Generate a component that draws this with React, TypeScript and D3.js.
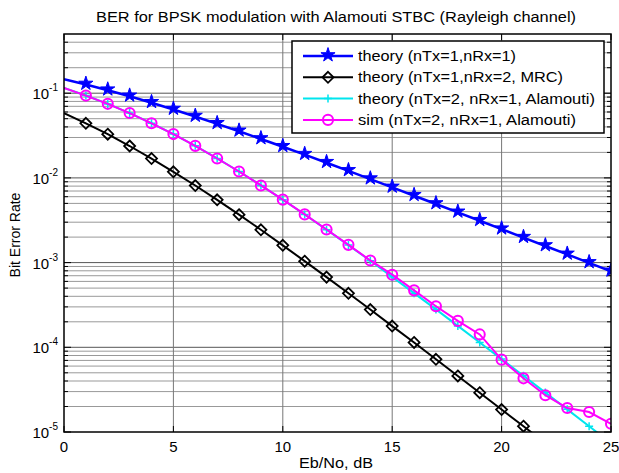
import React from 'react';
import * as d3 from 'd3';

const ebNo = [0, 1, 2, 3, 4, 5, 6, 7, 8, 9, 10, 11, 12, 13, 14, 15, 16, 17, 18, 19, 20, 21, 22, 23, 24, 25];

const theory11 = [0.1465, 0.1267, 0.1085, 0.0919, 0.0771, 0.0642, 0.053, 0.0435, 0.0355, 0.0288, 0.0233, 0.0188,
  0.0151, 0.0121, 0.00967, 0.00772, 0.00616, 0.00492, 0.00392, 0.00312, 0.00248, 0.00197, 0.00157, 0.00125,
  0.000992, 0.000789];

const theoryMrc = [0.0581, 0.0441, 0.0328, 0.0238, 0.0169, 0.0118, 0.00813, 0.00551, 0.00368, 0.00244, 0.0016,
  0.00104, 0.000674, 0.000434, 0.000279, 0.000178, 0.000114, 0.0000722, 0.0000459, 0.0000291, 0.0000184,
  0.0000117, 0.0000074, 0.0000047, 0.000003, 0.0000019];

const theoryAlamouti = [0.1151, 0.0939, 0.0748, 0.0582, 0.0442, 0.0329, 0.0239, 0.017, 0.0119, 0.00816, 0.00553,
  0.0037, 0.00245, 0.00161, 0.00105, 0.000677, 0.000436, 0.00028, 0.000179, 0.000114, 0.0000726, 0.0000461,
  0.0000292, 0.0000185, 0.0000117, 0.0000074];

const simAlamouti = [0.115, 0.0937, 0.0749, 0.0583, 0.0441, 0.0329, 0.0239, 0.01695, 0.0119, 0.00815, 0.00554,
  0.00371, 0.00246, 0.00162, 0.00106, 0.00072, 0.00047, 0.000305, 0.000205, 0.000142, 0.0000715, 0.000043,
  0.0000272, 0.0000192, 0.0000172, 0.0000125];

const legendLabels = [
  'theory (nTx=1,nRx=1)',
  'theory (nTx=1,nRx=2, MRC)',
  'theory (nTx=2, nRx=1, Alamouti)',
  'sim (nTx=2, nRx=1, Alamouti)',
];
// widths of the legend strings as they appear in the picture
const legendWidths = [158, 205, 237, 218];

const xTicks = [0, 5, 10, 15, 20, 25];
const yDecades = [-5, -4, -3, -2, -1];

const W = 619;
const H = 473;
const L = 64, R = 611, T = 34, B = 432;
const FONT = 'Liberation Sans, Arial, sans-serif';

const x = d3.scaleLinear().domain([0, 25]).range([L, R]);
const y = d3.scaleLog().domain([1e-5, 0.5]).range([B, T]);

const starPath = d3.symbol().type(d3.symbolStar).size(62)();
const circlePath = d3.symbol().type(d3.symbolCircle).size(80)();

const Marker = ({ kind, cx, cy }: { kind: string; cx: number; cy: number }) => {
  if (kind === 'star') {
    return <path d={starPath as string} transform={`translate(${cx},${cy - 1})`} fill="#0000ff" stroke="#0000ff" strokeWidth={1} />;
  }
  if (kind === 'diamond') {
    const r = 5.5;
    return (
      <path d={`M${cx},${cy - r}L${cx + r},${cy}L${cx},${cy + r}L${cx - r},${cy}Z`} fill="none" stroke="#000" strokeWidth={1.8} />
    );
  }
  if (kind === 'plus') {
    const r = 4;
    return (
      <path d={`M${cx - r},${cy}H${cx + r}M${cx},${cy - r}V${cy + r}`} stroke="#00e5ee" strokeWidth={1.5} fill="none" />
    );
  }
  return <path d={circlePath as string} transform={`translate(${cx},${cy})`} fill="none" stroke="#ff00ff" strokeWidth={2} />;
};

const series = [
  { values: theory11, color: '#0000ff', kind: 'star', width: 2.5 },
  { values: theoryMrc, color: '#000000', kind: 'diamond', width: 2 },
  { values: theoryAlamouti, color: '#00e5ee', kind: 'plus', width: 2 },
  { values: simAlamouti, color: '#ff00ff', kind: 'circle', width: 2 },
];

export default function App() {
  const line = d3
    .line<number>()
    .x((_, i) => x(ebNo[i]))
    .y((d) => y(d));

  const minor: number[] = [];
  yDecades.concat([0]).forEach((d) => {
    for (let k = 2; k <= 9; k++) {
      const v = k * 10 ** d;
      if (v < 0.5) minor.push(v);
    }
  });
  const majorY = yDecades.map((d) => 10 ** d);

  return (
    <svg width={W} height={H} style={{ position: 'absolute', left: 0, top: 0, background: '#fff' }} fontFamily={FONT}>
      <defs>
        <clipPath id="plot">
          <rect x={L} y={T} width={R - L} height={B - T} />
        </clipPath>
      </defs>
      <rect x={0} y={0} width={W} height={H} fill="#fff" />

      {/* grid */}
      {minor.map((v) => (
        <line key={'mg' + v} x1={L} x2={R} y1={y(v)} y2={y(v)} stroke="#999" strokeWidth={1} />
      ))}
      {majorY.slice(1).map((v) => (
        <line key={'Mg' + v} x1={L} x2={R} y1={y(v)} y2={y(v)} stroke="#555" strokeWidth={1} />
      ))}
      {xTicks.slice(1, -1).map((t) => (
        <line key={'xg' + t} x1={x(t)} x2={x(t)} y1={T} y2={B} stroke="#777" strokeWidth={1} />
      ))}

      {/* ticks */}
      {minor.map((v) => (
        <g key={'mt' + v}>
          <line x1={L} x2={L + 4} y1={y(v)} y2={y(v)} stroke="#000" />
          <line x1={R} x2={R - 4} y1={y(v)} y2={y(v)} stroke="#000" />
        </g>
      ))}
      {majorY.map((v) => (
        <g key={'Mt' + v}>
          <line x1={L} x2={L + 7} y1={y(v)} y2={y(v)} stroke="#000" />
          <line x1={R} x2={R - 7} y1={y(v)} y2={y(v)} stroke="#000" />
        </g>
      ))}
      {xTicks.map((t) => (
        <g key={'xt' + t}>
          <line x1={x(t)} x2={x(t)} y1={B} y2={B - 6} stroke="#000" />
          <line x1={x(t)} x2={x(t)} y1={T} y2={T + 6} stroke="#000" />
        </g>
      ))}

      {/* series */}
      <g clipPath="url(#plot)">
        {series.map((s, si) => (
          <g key={'s' + si}>
            <path d={line(s.values) as string} fill="none" stroke={s.color} strokeWidth={s.width} />
            {s.values.map((v, i) =>
              i > 0 ? <Marker key={i} kind={s.kind} cx={x(ebNo[i])} cy={y(v)} /> : null
            )}
          </g>
        ))}
      </g>

      {/* frame */}
      <rect x={L} y={T} width={R - L} height={B - T} fill="none" stroke="#000" strokeWidth={1.5} />

      {/* tick labels */}
      {xTicks.map((t) => (
        <text key={'xl' + t} x={x(t)} y={452} fontSize={15} textAnchor="middle" fill="#000">
          {t}
        </text>
      ))}
      {yDecades.map((d) => (
        <text key={'yl' + d} x={58} y={y(10 ** d) + 6} fontSize={15} textAnchor="end" fill="#000">
          10
          <tspan fontSize={10} dy={-8}>
            {d}
          </tspan>
        </text>
      ))}

      {/* titles */}
      <text x={96} y={22} fontSize={14} textLength={480} lengthAdjust="spacingAndGlyphs" fill="#000">
        BER for BPSK modulation with Alamouti STBC (Rayleigh channel)
      </text>
      <text x={299} y={468} fontSize={14} textLength={74} lengthAdjust="spacingAndGlyphs" fill="#000">
        Eb/No, dB
      </text>
      <text transform="translate(20,235) rotate(-90)" fontSize={14} textAnchor="middle" fill="#000">
        Bit Error Rate
      </text>

      {/* legend */}
      <rect x={292} y={41} width={312} height={92} fill="#fff" stroke="#000" strokeWidth={1.5} />
      {series.map((s, i) => {
        const ly = 56 + i * 21.3;
        return (
          <g key={'lg' + i}>
            <line x1={303} x2={353} y1={ly} y2={ly} stroke={s.color} strokeWidth={s.width} />
            <Marker kind={s.kind} cx={328} cy={ly} />
            <text x={358} y={ly + 5} fontSize={14} textLength={legendWidths[i]} lengthAdjust="spacingAndGlyphs" fill="#000">
              {legendLabels[i]}
            </text>
          </g>
        );
      })}
    </svg>
  );
}
